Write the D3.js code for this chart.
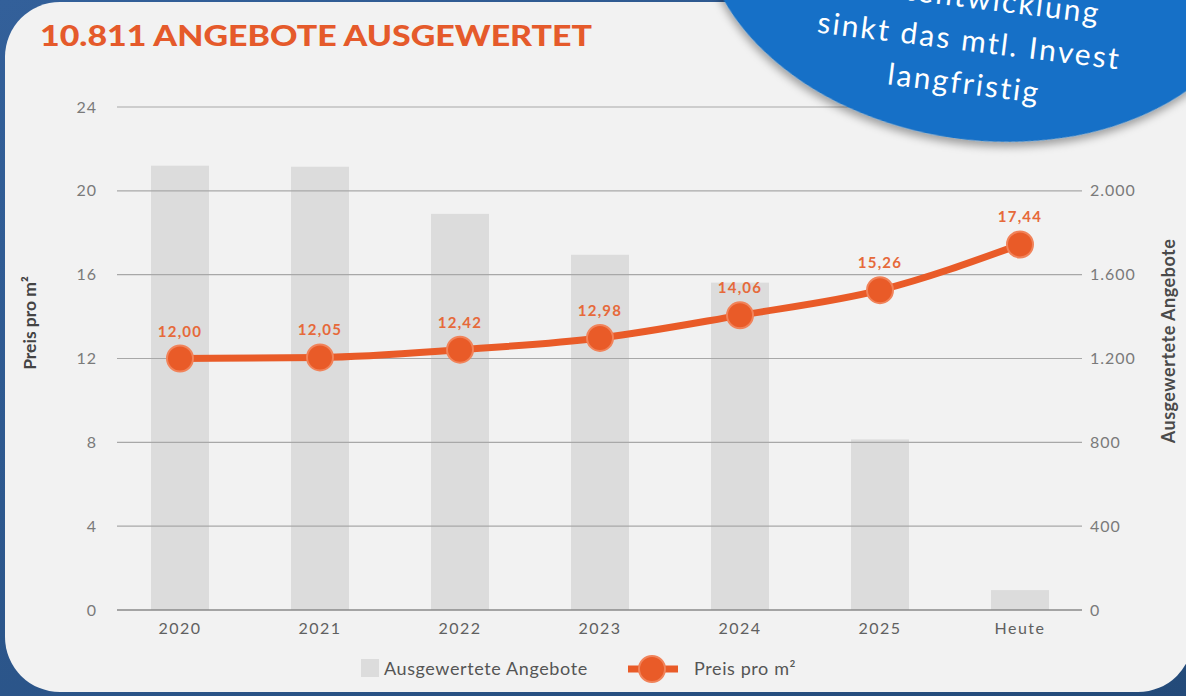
<!DOCTYPE html>
<html>
<head>
<meta charset="utf-8" />
<title>Angebote ausgewertet</title>
<script src="https://d3js.org/d3.v7.min.js"></script>
<style>
  body { margin: 0; background: #2b5483; }
  svg { display: block; }
  text { font-family: Lato, "Open Sans", sans-serif; }
</style>
</head>
<body>
<div id="viz"></div>
<script>

// data
var categories = ["2020", "2021", "2022", "2023", "2024", "2025", "Heute"];
var offers = [2120, 2115, 1890, 1695, 1562, 814, 95];
var prices = [12.00, 12.05, 12.42, 12.98, 14.06, 15.26, 17.44];
var leftTicks = [0, 4, 8, 12, 16, 20, 24];
var rightTicks = [0, 400, 800, 1200, 1600, 2000];
var bubbleLines = ["Mietentwicklung", "sinkt das mtl. Invest", "langfristig"];

var W = 1186, H = 696;
var orange = "#e95b28";

var svg = d3.select("#viz").append("svg")
    .attr("width", W)
    .attr("height", H);

var defs = svg.append("defs");
var bg = defs.append("linearGradient").attr("id", "bg")
    .attr("x1", 0).attr("y1", 0).attr("x2", 1).attr("y2", 1);
bg.append("stop").attr("offset", 0).attr("stop-color", "#33609a");
bg.append("stop").attr("offset", 1).attr("stop-color", "#234a79");

var shadow = defs.append("filter").attr("id", "shadow")
    .attr("x", "-20%").attr("y", "-20%").attr("width", "140%").attr("height", "150%");
shadow.append("feDropShadow")
    .attr("dx", 0).attr("dy", 5).attr("stdDeviation", 4)
    .attr("flood-color", "#000").attr("flood-opacity", 0.35);

svg.append("rect").attr("width", W).attr("height", H).attr("fill", "url(#bg)");

// card
svg.append("rect")
    .attr("x", 5).attr("y", 2)
    .attr("width", 1188).attr("height", 690)
    .attr("rx", 55).attr("ry", 55)
    .attr("fill", "#f2f2f2");

// title
svg.append("text")
    .attr("x", 40).attr("y", 46)
    .attr("fill", "#e55a2b")
    .attr("font-size", 28)
    .attr("font-weight", 900)
    .attr("textLength", 552)
    .attr("lengthAdjust", "spacingAndGlyphs")
    .text("10.811 ANGEBOTE AUSGEWERTET");

// scales
var x = d3.scaleBand()
    .domain(categories)
    .range([110, 1090])
    .paddingInner(0.586)
    .paddingOuter(0.293);

var yL = d3.scaleLinear().domain([0, 24]).range([610, 107]);
var yR = d3.scaleLinear().domain([0, 2400]).range([610, 107]);

var gridX0 = 117, gridX1 = 1082;

// bars
svg.append("g").selectAll("rect")
    .data(categories)
  .enter().append("rect")
    .attr("x", function(d) { return x(d); })
    .attr("y", function(d, i) { return yR(offers[i]); })
    .attr("width", x.bandwidth())
    .attr("height", function(d, i) { return yR(0) - yR(offers[i]); })
    .attr("fill", "#dcdcdc");

// gridlines
svg.append("g").selectAll("line")
    .data(leftTicks)
  .enter().append("line")
    .attr("x1", gridX0).attr("x2", gridX1)
    .attr("y1", function(d) { return yL(d); })
    .attr("y2", function(d) { return yL(d); })
    .attr("stroke", function(d) { return d === 0 ? "#8a8a8a" : "#a8a8a8"; })
    .attr("stroke-width", function(d) { return d === 0 ? 1.6 : 1.2; });

// left axis labels
svg.append("g").selectAll("text")
    .data(leftTicks)
  .enter().append("text")
    .attr("x", 97)
    .attr("y", function(d) { return yL(d); })
    .attr("dy", "0.35em")
    .attr("text-anchor", "end")
    .attr("font-size", 16)
    .attr("letter-spacing", 1)
    .attr("fill", "#7a7a7a")
    .text(function(d) { return d; });

// right axis labels
var fmtDE = function(v) { return d3.format(",")(v).replace(/,/g, "."); };
svg.append("g").selectAll("text")
    .data(rightTicks)
  .enter().append("text")
    .attr("x", 1090)
    .attr("y", function(d) { return yR(d); })
    .attr("dy", "0.35em")
    .attr("font-size", 16)
    .attr("letter-spacing", 1)
    .attr("fill", "#7a7a7a")
    .text(fmtDE);

// x axis labels
svg.append("g").selectAll("text")
    .data(categories)
  .enter().append("text")
    .attr("x", function(d) { return x(d) + x.bandwidth() / 2; })
    .attr("y", 634)
    .attr("text-anchor", "middle")
    .attr("font-size", 16)
    .attr("letter-spacing", 1.5)
    .attr("fill", "#606060")
    .text(function(d) { return d; });

// axis titles
svg.append("text")
    .attr("transform", "translate(36,323) rotate(-90)")
    .attr("text-anchor", "middle")
    .attr("font-size", 17.5)
    .attr("font-weight", 700)
    .attr("fill", "#444")
    .text("Preis pro m²");

svg.append("text")
    .attr("transform", "translate(1175,341) rotate(-90)")
    .attr("text-anchor", "middle")
    .attr("font-size", 18)
    .attr("font-weight", 700)
    .attr("letter-spacing", 0.5)
    .attr("fill", "#4a4a4a")
    .text("Ausgewertete Angebote");

// price line
var pts = categories.map(function(d, i) {
  return [x(d) + x.bandwidth() / 2, yL(prices[i]), prices[i]];
});

var line = d3.line()
    .x(function(d) { return d[0]; })
    .y(function(d) { return d[1]; })
    .curve(d3.curveMonotoneX);

svg.append("path")
    .datum(pts)
    .attr("d", line)
    .attr("fill", "none")
    .attr("stroke", orange)
    .attr("stroke-width", 7);

svg.append("g").selectAll("circle")
    .data(pts)
  .enter().append("circle")
    .attr("cx", function(d) { return d[0]; })
    .attr("cy", function(d) { return d[1]; })
    .attr("r", 13)
    .attr("fill", orange)
    .attr("stroke", "#f1835a")
    .attr("stroke-width", 2);

svg.append("g").selectAll("text")
    .data(pts)
  .enter().append("text")
    .attr("x", function(d) { return d[0]; })
    .attr("y", function(d) { return d[1] - 22; })
    .attr("text-anchor", "middle")
    .attr("font-size", 15)
    .attr("font-weight", 700)
    .attr("letter-spacing", 1.2)
    .attr("fill", "#e6693a")
    .text(function(d) { return d3.format(".2f")(d[2]).replace(".", ","); });

// legend
var lg = svg.append("g");
lg.append("rect")
    .attr("x", 361).attr("y", 659)
    .attr("width", 18).attr("height", 18)
    .attr("fill", "#dcdcdc");
lg.append("text")
    .attr("x", 384).attr("y", 675)
    .attr("font-size", 18)
    .attr("letter-spacing", 0.6)
    .attr("fill", "#555")
    .text("Ausgewertete Angebote");
lg.append("line")
    .attr("x1", 628).attr("x2", 678)
    .attr("y1", 669).attr("y2", 669)
    .attr("stroke", orange).attr("stroke-width", 7);
lg.append("circle")
    .attr("cx", 652).attr("cy", 669).attr("r", 13)
    .attr("fill", orange)
    .attr("stroke", "#f1835a").attr("stroke-width", 2);
lg.append("text")
    .attr("x", 694).attr("y", 675)
    .attr("font-size", 18)
    .attr("letter-spacing", 0.6)
    .attr("fill", "#555")
    .text("Preis pro m²");

// blue speech bubble on top right
var bub = svg.append("g");
bub.append("ellipse")
    .attr("transform", "translate(982,-62) rotate(8)")
    .attr("rx", 282).attr("ry", 202)
    .attr("fill", "#1270c7")
    .attr("filter", "url(#shadow)");

bub.append("g")
    .attr("transform", "translate(968,51) rotate(7)")
  .selectAll("text")
    .data(bubbleLines)
  .enter().append("text")
    .attr("y", function(d, i) { return (i - 1) * 43; })
    .attr("text-anchor", "middle")
    .attr("font-family", "'Noto Sans', sans-serif")
    .attr("font-size", 30)
    .attr("letter-spacing", 2.2)
    .attr("fill", "#fff")
    .text(function(d) { return d; });

</script>
</body>
</html>
